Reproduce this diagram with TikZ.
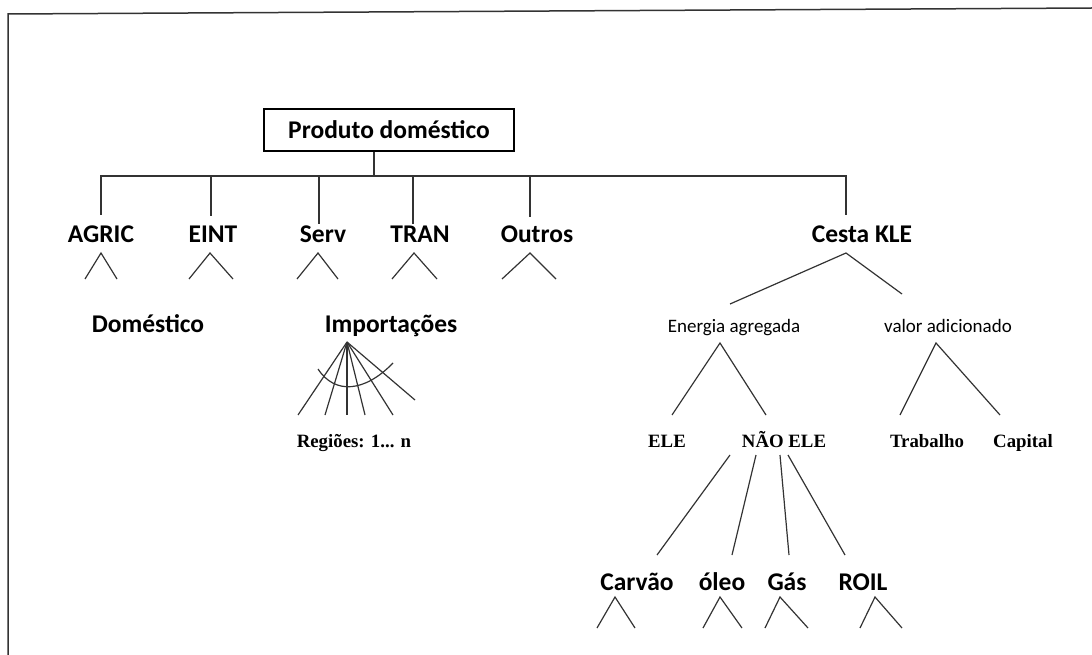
\documentclass[tikz,border=0pt]{standalone}
\usepackage{fontspec}
\setmainfont{Carlito}
\newfontfamily\timesfont{Liberation Serif}
\tikzset{
	lbl/.style={font=\bfseries\fontsize{25.5}{30}\selectfont, inner sep=0pt, anchor=base},
	sublbl/.style={font=\fontsize{19}{23}\selectfont, inner sep=0pt, anchor=base},
	srflbl/.style={font=\timesfont\bfseries\fontsize{18.8}{22}\selectfont, inner sep=0pt, anchor=base},
	link/.style={line width=1.2pt, draw=black!80},
}
\begin{document}
\begin{tikzpicture}[x=1pt, y=-1pt]
		\useasboundingbox (0,0) rectangle (1092,655);
		% Frame
		\draw[line width=1.5pt, black!80] (1092,8) -- (8,14) -- (8,655);
		% Nodes
		\node[draw, rectangle, line width=1.2pt, minimum width=250pt, minimum height=42pt, font=\bfseries\fontsize{25.5}{30}\selectfont] (prod) at (389,130) {Produto doméstico\hspace{14pt}};
		\node[lbl] (agric) at (101,243) {AGRIC};
		\node[lbl] (eint) at (213,243) {EINT};
		\node[lbl] (serv) at (323,243) {Serv};
		\node[lbl] (tran) at (420,243) {TRAN};
		\node[lbl] (outros) at (537,243) {Outros};
		\node[lbl] (kle) at (862,243) {Cesta KLE};
		\node[lbl] (dom) at (148,332) {Doméstico};
		\node[lbl] (imp) at (391,332) {Importações};
		\node[srflbl] (reg) at (354,447) {Regiões: 1... n};
		\node[sublbl] (energia) at (734,332) {Energia agregada};
		\node[sublbl] (valor) at (948,332) {valor adicionado};
		\node[srflbl] (ele) at (667,447) {ELE};
		\node[srflbl] (naoele) at (784,447) {NÃO ELE};
		\node[srflbl] (trab) at (927,447) {Trabalho};
		\node[srflbl] (cap) at (1023,447) {Capital};
		\node[lbl] (carvao) at (637,590) {Carvão};
		\node[lbl] (oleo) at (722,590) {óleo};
		\node[lbl] (gas) at (787,590) {Gás};
		\node[lbl] (roil) at (863,590) {ROIL};
		% Bracket ends
		\coordinate (bar) at (374,176);
		\coordinate (dagric) at (101,215);
		\coordinate (deint) at (211,216);
		\coordinate (dserv) at (319,224);
		\coordinate (dtran) at (413,224);
		\coordinate (doutros) at (530,217);
		\coordinate (dkle) at (846,215);
		% Lines
		\draw[link] (prod.south -| bar) -- (bar);
		\draw[link] (dagric) -- (bar -| dagric) -- (bar -| dkle) -- (dkle);
		\foreach \d in {deint, dserv, dtran, doutros}
			\draw[link] (bar -| \d) -- (\d);
		% Small carets
		\foreach \x/\l/\r in {101/16/16, 210/21/23, 318/21/20, 414/22/23, 530/28/26}
			\draw[link] ({\x-\l},279) -- (\x,253) -- ({\x+\r},279);
		% Cesta KLE
		\coordinate (kletop) at (846,253);
		\coordinate (kleleft) at (730,304);
		\coordinate (kleright) at (902,294);
		\draw[link] (kleleft) -- (kletop) -- (kleright);
		\coordinate (entop) at (720,343);
		\coordinate (eleend) at (672,415);
		\coordinate (naoend) at (766,415);
		\draw[link] (eleend) -- (entop) -- (naoend);
		\coordinate (vatop) at (936,343);
		\coordinate (trabend) at (900,415);
		\coordinate (capend) at (1000,415);
		\draw[link] (trabend) -- (vatop) -- (capend);
		% NAO ELE fan
		\foreach \a/\b in {730/657, 756/732, 780/789, 788/845}
			\draw[link] (\a,455) -- (\b,555);
		\foreach \x/\l/\r in {615/18/20, 720/17/22, 780/15/28, 875/15/27}
			\draw[link] ({\x-\l},628) -- (\x,597) -- ({\x+\r},628);
		% Regions fan
		\coordinate (imptop) at (347,342);
		\foreach \x/\y in {298/415, 325/415, 347/415, 365/415, 393/415, 415/400}
			\draw[link] (imptop) -- (\x,\y);
		\draw[link] (318,369) .. controls (335,395) and (365,392) .. (393,363);
	\end{tikzpicture}
\end{document}
